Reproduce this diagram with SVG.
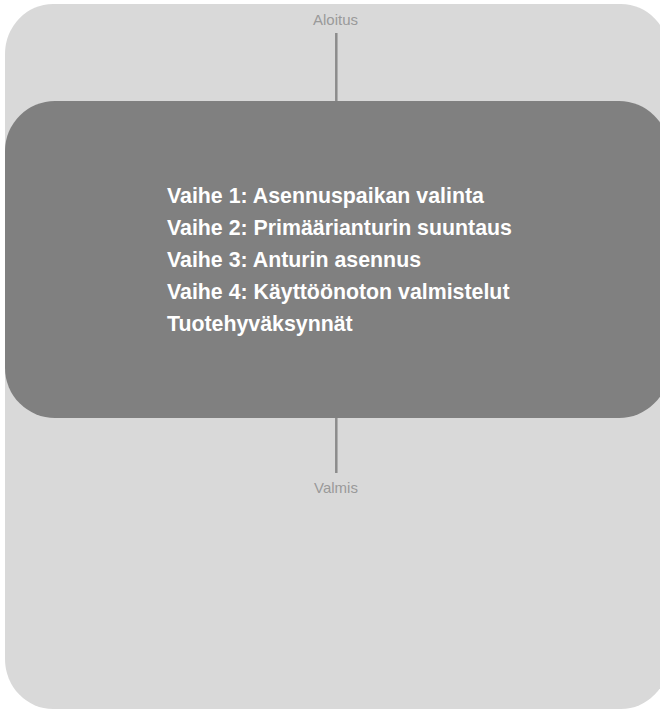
<svg xmlns="http://www.w3.org/2000/svg" width="660" height="712" viewBox="0 0 660 712">
<style>
.lbl{font-family:"Liberation Sans",Arial,sans-serif;font-size:15px;fill:#9a9a9a;text-anchor:middle}
.step{font-family:"Liberation Sans",Arial,sans-serif;font-size:21.33px;font-weight:bold;fill:#ffffff}
.conn{stroke:#8c8c8c;stroke-width:2.5;fill:none}
</style>
<rect width="660" height="712" fill="#ffffff"/>
<g id="frame"><rect x="5" y="4" width="664" height="705" rx="48" ry="50" fill="#d9d9d9"/></g>
<g id="connectors">
<line class="conn" x1="336.3" y1="33" x2="336.3" y2="102"/>
<line class="conn" x1="336.3" y1="417" x2="336.3" y2="473"/>
</g>
<g id="start"><text class="lbl" x="335.5" y="25">Aloitus</text></g>
<g id="process">
<rect x="5" y="101" width="664" height="317" rx="50" ry="50" fill="#808080"/>
<text class="step" x="167" y="203">Vaihe 1: Asennuspaikan valinta</text>
<text class="step" x="167" y="235">Vaihe 2: Primäärianturin suuntaus</text>
<text class="step" x="167" y="267">Vaihe 3: Anturin asennus</text>
<text class="step" x="167" y="299">Vaihe 4: Käyttöönoton valmistelut</text>
<text class="step" x="167" y="331">Tuotehyväksynnät</text>
</g>
<g id="end"><text class="lbl" x="336" y="493">Valmis</text></g>
</svg>
